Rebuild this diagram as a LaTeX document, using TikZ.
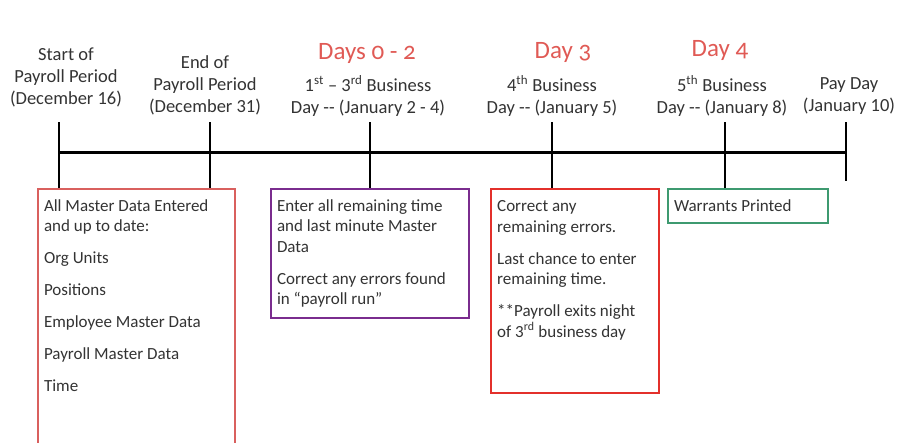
\documentclass[tikz,border=0pt]{standalone}
\usepackage{fontspec}
\setmainfont{Carlito}
\definecolor{boxpink}{HTML}{D9605E}
\definecolor{boxpurple}{HTML}{7A2C8E}
\definecolor{boxred}{HTML}{E3302B}
\definecolor{boxgreen}{HTML}{3E9A70}
\definecolor{dayred}{HTML}{E05A55}
\definecolor{txt}{HTML}{333333}
\newcommand{\boxtext}[3]{\parbox[t][#2][t]{#1}{\raggedright\strut #3}}
\begin{document}
\begin{tikzpicture}[x=1pt,y=-1pt,
  head/.style={align=center,text=txt,font=\fontsize{18.5}{22}\selectfont,inner sep=0pt},
  dayhead/.style={text=dayred,font=\fontsize{25}{28}\selectfont\addfontfeatures{Numbers=OldStyle},inner sep=0pt},
  infobox/.style={draw,line width=2pt,anchor=north west,text=txt,
    font=\fontsize{17}{20.5}\selectfont,inner xsep=6pt,inner ysep=8pt},
  tick/.style={line width=2.6pt},
  axis/.style={line width=3pt}]
\useasboundingbox (0,0) rectangle (899,442);
% tick tops
\coordinate (t1) at (59,122);
\coordinate (t2) at (210,122);
\coordinate (t3) at (370,122);
\coordinate (t4) at (552,122);
\coordinate (t5) at (725,122);
\coordinate (t6) at (846,122);
\coordinate (e6) at (846,181);
\coordinate (l1) at (59,152);
\coordinate (l6) at (846,152);
% boxes
\begin{scope}
\clip (0,0) rectangle (899,442);
\node[infobox,draw=boxpink] (b1) at (37,188)
  {\boxtext{185pt}{262pt}{All Master Data Entered\\and up to date:\\[11.5pt]Org Units\\[11.5pt]Positions\\[11.5pt]Employee Master Data\\[11.5pt]Payroll Master Data\\[11.5pt]Time}};
\end{scope}
\node[infobox,draw=boxpurple] (b2) at (270,188)
  {\boxtext{186pt}{113pt}{Enter all remaining time\\and last minute Master\\Data\\[11.5pt]Correct any errors found\\in “payroll run”}};
\node[infobox,draw=boxred,line width=2.4pt] (b3) at (490,188)
  {\boxtext{156pt}{188pt}{Correct any\\remaining errors.\\[11.5pt]Last chance to enter\\remaining time.\\[11.5pt]**Payroll exits night\\of 3\textsuperscript{rd} business day}};
\node[infobox,draw=boxgreen] (b4) at (667,188)
  {\boxtext{148pt}{18pt}{Warrants Printed}};
% timeline
\draw[axis] (l1) -- (l6);
\draw[tick] (t1) -- (t1 |- b1.north);
\draw[tick] (t2) -- (t2 |- b1.north);
\draw[tick] (t3) -- (t3 |- b2.north);
\draw[tick] (t4) -- (t4 |- b3.north);
\draw[tick] (t5) -- (t5 |- b4.north);
\draw[tick] (t6) -- (e6);
% headers
\node[head] (h1) at (66,77) {Start of\\Payroll Period\\(December 16)};
\node[head] (h2) at (205,85) {End of\\Payroll Period\\(December 31)};
\node[head] (h3) at (368,96) {1\textsuperscript{st} – 3\textsuperscript{rd} Business\\Day {-}{-} (January 2 - 4)};
\node[head] (h4) at (552,96) {4\textsuperscript{th} Business\\Day {-}{-} (January 5)};
\node[head] (h5) at (722,96) {5\textsuperscript{th} Business\\Day {-}{-} (January 8)};
\node[head] (h6) at (849,96) {Pay Day\\(January 10)};
\node[dayhead] (d1) at (367,53) {Days 0 - 2};
\node[dayhead] (d2) at (563,52) {Day 3};
\node[dayhead] (d3) at (720,50) {Day 4};
\end{tikzpicture}
\end{document}
